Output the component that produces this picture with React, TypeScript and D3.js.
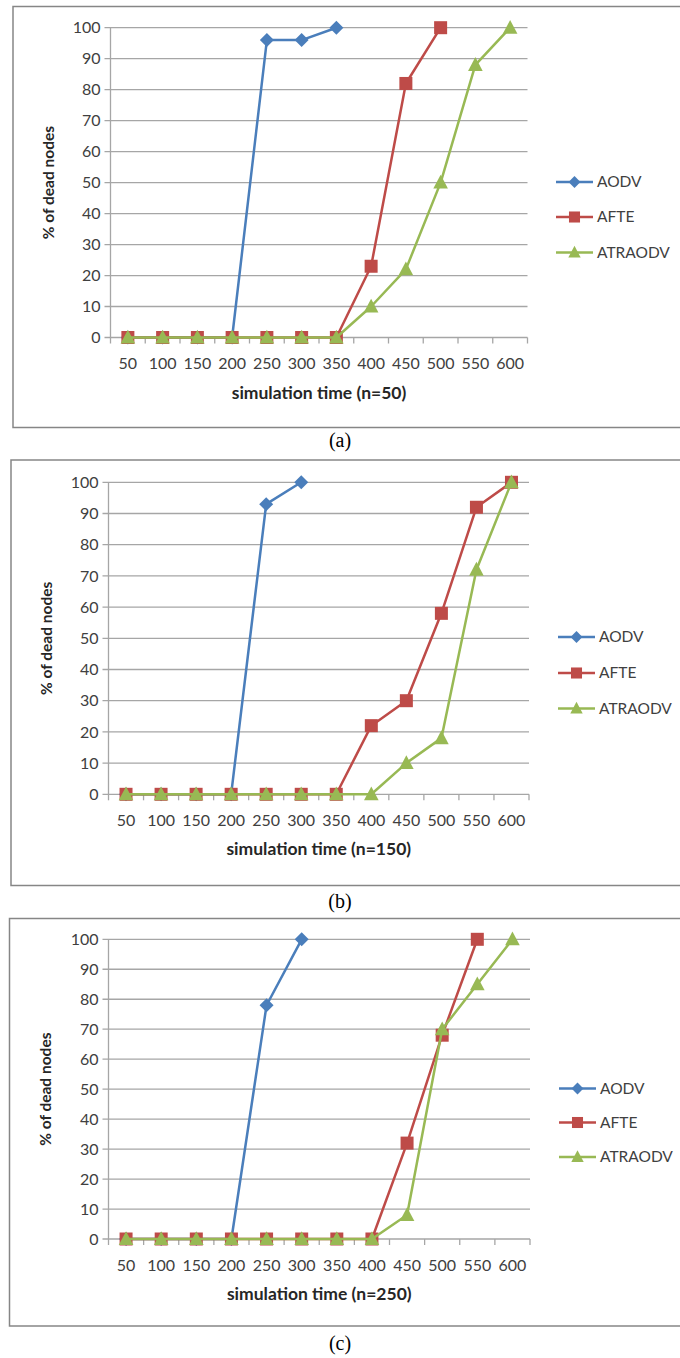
import React, { useEffect, useRef } from "react";
import * as d3 from "d3";

const times = [50, 100, 150, 200, 250, 300, 350, 400, 450, 500, 550, 600];
const yTicks = [0, 10, 20, 30, 40, 50, 60, 70, 80, 90, 100];
const seriesNames = ["AODV", "AFTE", "ATRAODV"];
const seriesColors = ["#4A7EBB", "#BE4B48", "#98B954"];
const captions = ["(a)", "(b)", "(c)"];
const xTitles = ["simulation time (n=50)", "simulation time (n=150)", "simulation time (n=250)"];

// n=50
const aodvA = [0, 0, 0, 0, 96, 96, 100];
const afteA = [0, 0, 0, 0, 0, 0, 0, 23, 82, 100];
const atraA = [0, 0, 0, 0, 0, 0, 0, 10, 22, 50, 88, 100];
// n=150
const aodvB = [0, 0, 0, 0, 93, 100];
const afteB = [0, 0, 0, 0, 0, 0, 0, 22, 30, 58, 92, 100];
const atraB = [0, 0, 0, 0, 0, 0, 0, 0, 10, 18, 72, 100];
// n=250
const aodvC = [0, 0, 0, 0, 78, 100];
const afteC = [0, 0, 0, 0, 0, 0, 0, 0, 32, 68, 100];
const atraC = [0, 0, 0, 0, 0, 0, 0, 0, 8, 70, 85, 100];

const panelData = [
  [aodvA, afteA, atraA],
  [aodvB, afteB, atraB],
  [aodvC, afteC, atraC],
];

// layout of each panel (frame + plot area + legend rows)
const layouts = [
  { frameTop: 6.5, frameBottom: 427.5, frameLeft: 13, left: 110.5, right: 527.5, top: 27.7, bottom: 337.5, legendX: 556, legendY: [182, 217, 252.5], caption: 447 },
  { frameTop: 460, frameBottom: 885.5, frameLeft: 11, left: 108.5, right: 529, top: 482.3, bottom: 794.3, legendX: 558, legendY: [637, 673, 708.5], caption: 908 },
  { frameTop: 918.5, frameBottom: 1326, frameLeft: 9.5, left: 108.5, right: 530, top: 939.3, bottom: 1239, legendX: 559, legendY: [1088.5, 1122.5, 1157], caption: 1350 },
];

const font = "Lato, 'Open Sans', sans-serif";

function drawMarker(g: any, kind: number, x: number, y: number, color: string, s = 1) {
  if (kind === 0) {
    const r = 7 * s;
    g.append("path")
      .attr("d", `M${x},${y - r}L${x + r},${y}L${x},${y + r}L${x - r},${y}Z`)
      .attr("fill", color);
  } else if (kind === 1) {
    const h = 6.5 * s;
    g.append("rect")
      .attr("x", x - h)
      .attr("y", y - h)
      .attr("width", 2 * h)
      .attr("height", 2 * h)
      .attr("fill", color);
  } else {
    const w = 7.3 * s;
    g.append("path")
      .attr("d", `M${x},${y - 7.8 * s}L${x + w},${y + 6 * s}L${x - w},${y + 6 * s}Z`)
      .attr("fill", color);
  }
}

export default function App() {
  const ref = useRef<SVGSVGElement>(null);

  useEffect(() => {
    const svg = d3.select(ref.current);
    svg.selectAll("*").remove();

    svg.append("rect").attr("width", 680).attr("height", 1358).attr("fill", "#fff");

    layouts.forEach((L, pi) => {
      const g = svg.append("g");

      g.append("rect")
        .attr("x", L.frameLeft)
        .attr("y", L.frameTop)
        .attr("width", 700)
        .attr("height", L.frameBottom - L.frameTop)
        .attr("fill", "none")
        .attr("stroke", "#868686")
        .attr("stroke-width", 1.5);

      const x = d3
        .scaleBand<number>()
        .domain(times)
        .range([L.left, L.right]);
      const cx = (t: number) => x(t)! + x.bandwidth() / 2;
      const y = d3.scaleLinear().domain([0, 100]).range([L.bottom, L.top]);

      // gridlines
      g.append("g")
        .selectAll("line")
        .data(yTicks)
        .join("line")
        .attr("x1", L.left - 6)
        .attr("x2", L.right)
        .attr("y1", (d) => y(d))
        .attr("y2", (d) => y(d))
        .attr("stroke", "#A6A6A6")
        .attr("stroke-width", 1.3);

      // y axis line
      g.append("line")
        .attr("x1", L.left)
        .attr("x2", L.left)
        .attr("y1", L.top)
        .attr("y2", L.bottom)
        .attr("stroke", "#A6A6A6")
        .attr("stroke-width", 1.3);

      // x tick marks at category boundaries
      const bounds = times.map((t) => x(t)!).concat([L.right]);
      g.append("g")
        .selectAll("line")
        .data(bounds)
        .join("line")
        .attr("x1", (d) => d)
        .attr("x2", (d) => d)
        .attr("y1", L.bottom)
        .attr("y2", L.bottom + 6)
        .attr("stroke", "#A6A6A6")
        .attr("stroke-width", 1.3);

      // y tick labels
      g.append("g")
        .selectAll("text")
        .data(yTicks)
        .join("text")
        .attr("x", L.left - 10)
        .attr("y", (d) => y(d))
        .attr("dy", "0.35em")
        .attr("text-anchor", "end")
        .attr("font-family", font)
        .attr("font-size", 16)
        .attr("fill", "#404040")
        .text((d) => d);

      // x tick labels
      g.append("g")
        .selectAll("text")
        .data(times)
        .join("text")
        .attr("x", (d) => cx(d))
        .attr("y", L.bottom + 26)
        .attr("dy", "0.35em")
        .attr("text-anchor", "middle")
        .attr("font-family", font)
        .attr("font-size", 16)
        .attr("fill", "#404040")
        .text((d) => d);

      // axis titles
      g.append("text")
        .attr("x", (L.left + L.right) / 2)
        .attr("y", L.bottom + 55)
        .attr("dy", "0.35em")
        .attr("text-anchor", "middle")
        .attr("font-family", font)
        .attr("font-weight", "bold")
        .attr("font-size", 17.5)
        .attr("fill", "#262626")
        .text(xTitles[pi]);

      g.append("text")
        .attr("transform", `translate(${L.frameLeft + 36},${(L.top + L.bottom) / 2}) rotate(-90)`)
        .attr("dy", "0.35em")
        .attr("text-anchor", "middle")
        .attr("font-family", font)
        .attr("font-weight", "bold")
        .attr("font-size", 15.5)
        .attr("fill", "#262626")
        .text("% of dead nodes");

      // series
      const line = d3
        .line<number>()
        .x((_, i) => cx(times[i]))
        .y((d) => y(d));

      panelData[pi].forEach((vals, si) => {
        const sg = g.append("g");
        sg.append("path")
          .attr("d", line(vals))
          .attr("fill", "none")
          .attr("stroke", seriesColors[si])
          .attr("stroke-width", 2.5)
          .attr("stroke-linejoin", "round");
        vals.forEach((v, i) => drawMarker(sg, si, cx(times[i]), y(v), seriesColors[si]));
      });

      // legend
      seriesNames.forEach((name, si) => {
        const ly = L.legendY[si];
        const lg = g.append("g");
        lg.append("line")
          .attr("x1", L.legendX)
          .attr("x2", L.legendX + 37)
          .attr("y1", ly)
          .attr("y2", ly)
          .attr("stroke", seriesColors[si])
          .attr("stroke-width", 2.5);
        drawMarker(lg, si, L.legendX + 18.5, ly, seriesColors[si], 0.85);
        lg.append("text")
          .attr("x", L.legendX + 41)
          .attr("y", ly)
          .attr("dy", "0.35em")
          .attr("font-family", font)
          .attr("font-size", 15.5)
          .attr("fill", "#404040")
          .text(name);
      });

      // caption
      svg.append("text")
        .attr("x", 340)
        .attr("y", L.caption)
        .attr("text-anchor", "middle")
        .attr("font-family", "'Liberation Serif', 'Times New Roman', serif")
        .attr("font-size", 20)
        .attr("fill", "#000")
        .text(captions[pi]);
    });
  }, []);

  return (
    <svg
      ref={ref}
      width={680}
      height={1358}
      style={{ position: "absolute", left: 0, top: 0, display: "block" }}
    ></svg>
  );
}
